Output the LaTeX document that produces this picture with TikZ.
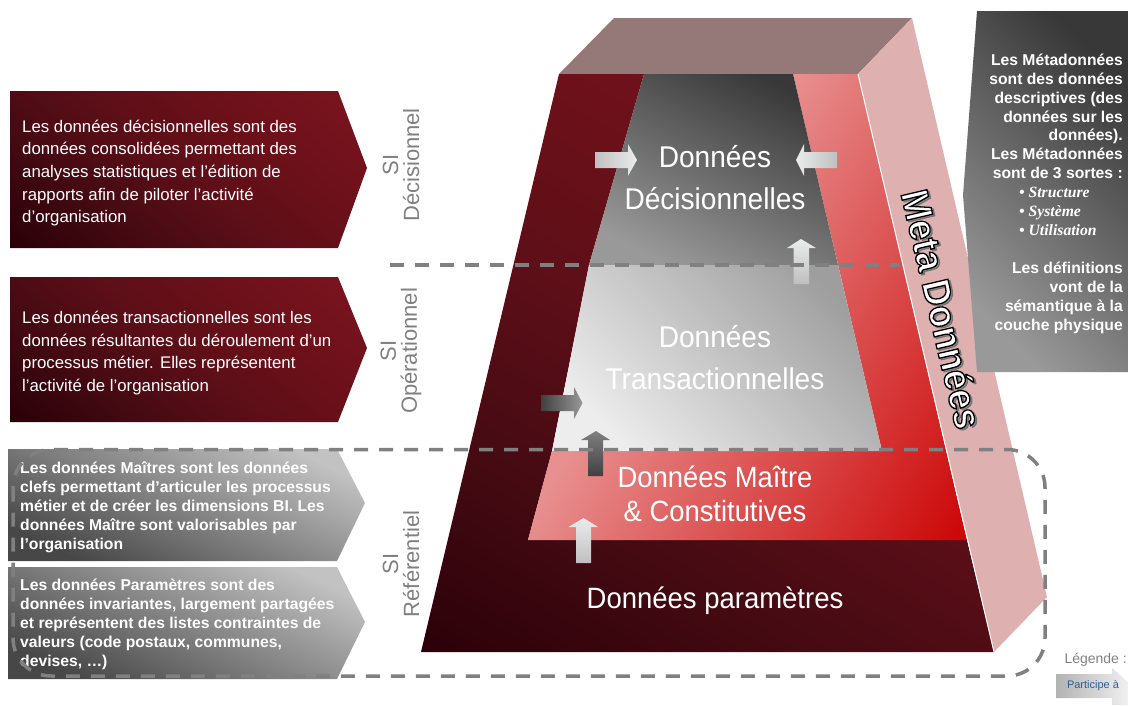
\documentclass[tikz,border=0pt]{standalone}
\usepackage{fontspec}
\setmainfont{Liberation Sans}
\newfontfamily\widefont[FakeStretch=0.935]{Liberation Sans}
\newfontfamily\listfont{Liberation Serif}
\definecolor{darkred}{HTML}{2A0008}
\definecolor{lowred}{HTML}{440A12}
\definecolor{midred}{HTML}{5E0F18}
\definecolor{highred}{HTML}{6C1019}
\definecolor{topred}{HTML}{7C1520}
\definecolor{pinkred}{HTML}{E89090}
\definecolor{endred}{HTML}{CC0606}
\definecolor{linegray}{HTML}{808080}
\definecolor{topface}{HTML}{957878}
\definecolor{sideface}{HTML}{DFB0B0}
\definecolor{lightarrow}{HTML}{EAECEC}
\definecolor{legendblue}{HTML}{2F5F94}
\pgfdeclareverticalshading{darkfade}{100bp}{color(0bp)=(darkred); color(15bp)=(darkred); color(32bp)=(lowred); color(50bp)=(midred); color(64bp)=(highred); color(85bp)=(topred); color(100bp)=(topred)}
\pgfdeclareverticalshading{pinkfade}{100bp}{color(0bp)=(pinkred); color(41bp)=(pinkred); color(84bp)=(endred); color(100bp)=(endred)}
\newcommand{\strokedtext}[2]{\special{pdf:code q 2 Tr 1.3 w #1 RG}#2\special{pdf:code Q}}
\tikzset{
  redbox/.style={shading=darkfade,shading angle=-40},
  graybox/.style={bottom color=black!72,top color=black!24,shading angle=-25},
  boxtext/.style={anchor=west,align=left,text=white,inner sep=0pt,font=\fontsize{16.8}{22.6}\selectfont},
  grayboxtext/.style={anchor=west,align=left,text=white,inner sep=0pt,font=\fontsize{15.7}{19}\selectfont\bfseries},
  metatext/.style={anchor=north east,align=right,text=white,inner sep=0pt,font=\fontsize{15.7}{18.8}\selectfont\bfseries},
  layertext/.style={align=center,text=white,inner sep=0pt,font=\fontsize{30}{42}\selectfont\widefont},
  silabel/.style={rotate=90,align=center,text=linegray,inner sep=0pt,font=\fontsize{22}{21}\selectfont},
  sidetext/.style={rotate=-76.8,inner sep=0pt,font=\fontsize{38.5}{38}\selectfont\bfseries\widefont},
  zoneline/.style={draw=linegray,line width=3.5pt,dash pattern=on 14pt off 11pt},
  lightup/.style={bottom color=black!25,top color=lightarrow},
  lightright/.style={left color=black!25,right color=lightarrow},
  lightleft/.style={left color=lightarrow,right color=black!25},
}
\begin{document}
\begin{tikzpicture}[x=1pt,y=-1pt]
    \useasboundingbox (0,0) rectangle (1128,705);
    % pyramide
    \fill[topface] (559,74) -- (614,18) -- (912,18) -- (858,74) -- cycle;
    \fill[sideface] (858,74) -- (912,18) -- (1047,597) -- (994,652) -- cycle;
    \shade[shading=darkfade,shading angle=-30] (559,74) -- (644,74) -- (589,265) -- (552,451) -- (528,540) -- (967,540) -- (994,652) -- (421,652) -- cycle;
    \shade[shading=pinkfade,shading angle=-121] (793,74) -- (858,74) -- (967,540) -- (528,540) -- (552,451) -- (882,451) -- cycle;
    \shade[bottom color=black!40,top color=black!78,shading angle=-27] (644,74) -- (793,74) -- (838,265) -- (589,265) -- cycle;
    \shade[bottom color=black!7,top color=black!38,shading angle=-45] (589,265) -- (838,265) -- (882,451) -- (552,451) -- cycle;
    \draw[white,line width=1pt] (858,74) -- (994,652);
    % fleches
    \shade[lightright] (595,152) -- (628,152) -- (628,144) -- (637,160) -- (628,176) -- (628,168) -- (595,168) -- cycle;
    \shade[lightleft] (837,152) -- (804,152) -- (804,144) -- (796,160) -- (804,176) -- (804,168) -- (837,168) -- cycle;
    \shade[lightup] (793.5,284) -- (793.5,248) -- (787,248) -- (801,239) -- (816,248) -- (809,248) -- (809,284) -- cycle;
    \shade[left color=black!75,right color=black!40] (541,395) -- (574,395) -- (574,387) -- (582.5,403) -- (574,419) -- (574,411) -- (541,411) -- cycle;
    \shade[bottom color=black!75,top color=black!50] (588,476) -- (588,440) -- (581,440) -- (596,431) -- (610,440) -- (603,440) -- (603,476) -- cycle;
    \shade[lightup] (576,563) -- (576,527) -- (568.5,527) -- (583.5,518) -- (598,527) -- (591,527) -- (591,563) -- cycle;
    \node[layertext] (decisionnelles) at (715,178) {Données\\Décisionnelles};
    \node[layertext] (transactionnelles) at (715,358) {Données\\Transactionnelles};
    \node[layertext,font=\fontsize{29.3}{34}\selectfont\widefont] (maitre) at (715,494) {Données Maître\\\& Constitutives};
    \node[layertext,font=\fontsize{29.4}{34}\selectfont\widefont] (parametres) at (715,601) {Données paramètres};
    \node[sidetext,text=black!45] (metaombre) at (944,310.5) {\strokedtext{0.45 0.45 0.45}{Meta Données}};
    \node[sidetext,text=white] (metadonnees) at (942,309) {\strokedtext{0 0 0}{Meta Données}};
    % boites de gauche
    \shade[redbox] (10,91) -- (338,91) -- (367,168) -- (338,248) -- (10,248) -- cycle;
    \shade[redbox] (10,277) -- (338,277) -- (367,348) -- (338,422) -- (10,422) -- cycle;
    \shade[graybox] (8,449) -- (337,449) -- (365,503) -- (337,561) -- (8,561) -- cycle;
    \shade[graybox] (8,567) -- (337,567) -- (365,622) -- (337,679) -- (8,679) -- cycle;
    \node[boxtext] (decisionneltext) at (22,173) {Les données décisionnelles sont des\\données consolidées permettant des\\analyses statistiques et l’édition de\\rapports afin de piloter l’activité\\d’organisation};
    \node[boxtext] (operationneltext) at (22,353) {Les données transactionnelles sont les\\données résultantes du déroulement d’un\\processus métier. Elles représentent\\l’activité de l’organisation};
    \node[grayboxtext] (maitretext) at (20,507) {Les données Maîtres sont les données\\clefs permettant d’articuler les processus\\métier et de créer les dimensions BI. Les\\données Maître sont valorisables par\\l’organisation};
    \node[grayboxtext] (parametretext) at (20,624) {Les données Paramètres sont des\\données invariantes, largement partagées\\et représentent des listes contraintes de\\valeurs (code postaux, communes,\\devises, …)};
    \node[silabel] (sidecisionnel) at (401,165) {SI\\Décisionnel};
    \node[silabel] (sioperationnel) at (401,351) {SI\\Opérationnel};
    \node[silabel] (sireferentiel) at (401,564) {SI\\Référentiel};
    % metadonnees
    \shade[bottom color=black!40,top color=black!78,shading angle=-45] (977,11) -- (1128,11) -- (1128,372) -- (977,372) -- (963,195) -- cycle;
    \node[metatext] (metahaut) at (1123,54) {Les Métadonnées\\sont des données\\descriptives (des\\données sur les\\données).\\Les Métadonnées\\sont de 3 sortes :};
    \node[anchor=north west,align=left,text=white,inner sep=0pt,font=\fontsize{15.7}{19}\selectfont\listfont\bfseries\itshape] (metaliste) at (1019,187) {• Structure\\• Système\\• Utilisation};
    \node[metatext] (metabas) at (1123,262) {Les définitions\\vont de la\\sémantique à la\\couche physique};
    % zones
    \coordinate (lineleft) at (390,265);
    \coordinate (lineright) at (900,265);
    \draw[zoneline] (lineleft) -- (lineright);
    \draw[zoneline,rounded corners=38pt] (13,449.5) rectangle (1045,676);
    % legende
    \shade[left color=black!30,right color=black!6] (1056,674) -- (1112,674) -- (1112,668) -- (1128,682) -- (1128,705) -- (1112,705) -- (1112,698) -- (1056,698) -- cycle;
    \node[anchor=east,inner sep=0pt,text=linegray,font=\fontsize{14}{16}\selectfont] (legende) at (1127,660) {Légende :};
    \node[inner sep=0pt,text=legendblue,font=\fontsize{11}{12}\selectfont] (participe) at (1093,686) {Participe à};
\end{tikzpicture}
\end{document}
